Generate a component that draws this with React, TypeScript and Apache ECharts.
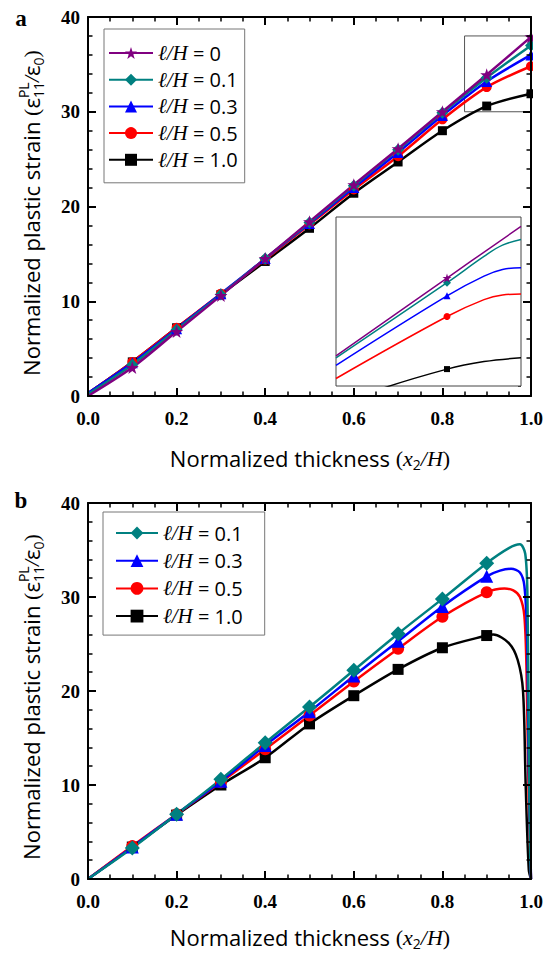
import React, { useEffect, useRef } from 'react';
import * as echarts from 'echarts';

// ---------- data ----------
const xA = [0, 0.1, 0.2, 0.3, 0.4, 0.5, 0.6, 0.7, 0.8, 0.9, 1.0];
const aL0 = [0, 3.0, 6.8, 10.6, 14.5, 18.4, 22.3, 26.1, 30.0, 33.9, 37.9];
const aL01 = [0.2, 3.3, 7.0, 10.7, 14.5, 18.3, 22.2, 26.0, 29.9, 33.6, 37.0];
const aL03 = [0.3, 3.5, 7.1, 10.8, 14.5, 18.2, 22.0, 25.7, 29.6, 33.2, 36.0];
const aL05 = [0.3, 3.6, 7.2, 10.8, 14.4, 18.1, 21.8, 25.3, 29.2, 32.6, 34.8];
const aL10 = [0.3, 3.6, 7.2, 10.7, 14.2, 17.7, 21.4, 24.7, 28.0, 30.6, 31.9];
const markersA = [0.1, 0.2, 0.3, 0.4, 0.5, 0.6, 0.7, 0.8, 0.9, 1.0];

// inset (zoom of panel a near x = 1)
const inX0 = [0.75, 0.9, 1.0];
const inY0 = [30.6, 34.75, 37.5];
const inX01 = [0.75, 0.9, 0.95, 0.975, 1.0];
const inY01 = [30.5, 34.5, 35.9, 36.5, 36.8];
const inX03 = [0.75, 0.9, 0.95, 0.975, 1.0];
const inY03 = [30.1, 33.8, 34.85, 35.2, 35.3];
const inX05 = [0.75, 0.9, 0.95, 0.975, 1.0];
const inY05 = [29.4, 32.7, 33.6, 33.85, 33.9];
const inX10 = [0.75, 0.8, 0.9, 0.95, 1.0];
const inY10 = [27.8, 28.7, 29.9, 30.3, 30.5];
const markersInset = [0.9];

// panel b
const bX01 = [0, 0.1, 0.2, 0.3, 0.4, 0.5, 0.6, 0.7, 0.8, 0.9, 0.95, 0.975, 0.987, 0.992, 0.995, 0.998, 1.0];
const bY01 = [0, 3.3, 6.9, 10.6, 14.5, 18.3, 22.2, 26.1, 29.8, 33.6, 35.2, 35.6, 34.6, 30, 15, 3, 0];
const bX03 = [0, 0.1, 0.2, 0.3, 0.4, 0.5, 0.6, 0.7, 0.8, 0.9, 0.93, 0.955, 0.975, 0.985, 0.991, 0.995, 1.0];
const bY03 = [0, 3.4, 6.9, 10.4, 14.2, 17.8, 21.6, 25.3, 29.0, 32.2, 32.8, 33.0, 32.6, 31.2, 26, 12, 0];
const bX05 = [0, 0.1, 0.2, 0.3, 0.4, 0.5, 0.6, 0.7, 0.8, 0.9, 0.94, 0.96, 0.975, 0.985, 0.99, 0.995, 1.0];
const bY05 = [0, 3.5, 6.9, 10.3, 13.8, 17.4, 21.0, 24.5, 27.9, 30.5, 30.9, 30.7, 30.0, 28.0, 22, 8, 0];
const bX10 = [0, 0.1, 0.2, 0.3, 0.4, 0.5, 0.6, 0.7, 0.8, 0.9, 0.915, 0.95, 0.97, 0.982, 0.988, 0.995, 1.0];
const bY10 = [0, 3.4, 6.8, 10.0, 12.9, 16.5, 19.5, 22.3, 24.6, 25.9, 26.0, 25.1, 23.3, 20.0, 10, 1, 0];
const markersB = [0.1, 0.2, 0.3, 0.4, 0.5, 0.6, 0.7, 0.8, 0.9];

const namesA = ['ℓ/H = 0', 'ℓ/H = 0.1', 'ℓ/H = 0.3', 'ℓ/H = 0.5', 'ℓ/H = 1.0'];
const namesB = ['ℓ/H = 0.1', 'ℓ/H = 0.3', 'ℓ/H = 0.5', 'ℓ/H = 1.0'];
const xTickLabels = ['0.0', '0.2', '0.4', '0.6', '0.8', '1.0'];
const yTickLabels = ['0', '10', '20', '30', '40'];

const colors = {
  l0: '#800080',
  l01: '#008080',
  l03: '#0000ff',
  l05: '#ff0000',
  l10: '#000000',
};
const STAR = 'path://M50,2 L61.8,37.6 L99,37.6 L69,59.6 L80.4,95 L50,73.2 L19.6,95 L31,59.6 L1,37.6 L38.2,37.6 Z';

const zip = (xs: number[], ys: number[]) => xs.map((x, i) => [x, ys[i]]);

const SERIF = "'Liberation Serif', 'Times New Roman', serif";
const SANS = "'Open Sans', 'Liberation Sans', sans-serif";

type Tok = { t: string; size: number; family: string; style?: string; weight?: string; dy?: number; stack?: boolean };

function buildTitle(tokens: Tok[], cx: number, cy: number, rotate: boolean) {
  const canvas = document.createElement('canvas');
  const ctx = canvas.getContext('2d')!;
  const fontOf = (k: Tok) => `${k.style || 'normal'} ${k.weight || 'normal'} ${k.size}px ${k.family}`;
  let x = 0;
  const items: { k: Tok; x: number }[] = [];
  let i = 0;
  while (i < tokens.length) {
    const k = tokens[i];
    ctx.font = fontOf(k);
    let w = ctx.measureText(k.t).width;
    items.push({ k, x });
    if (k.stack && i + 1 < tokens.length) {
      const n = tokens[i + 1];
      ctx.font = fontOf(n);
      w = Math.max(w, ctx.measureText(n.t).width);
      items.push({ k: n, x });
      i += 2;
    } else i += 1;
    x += w;
  }
  const total = x;
  return {
    type: 'group',
    x: cx,
    y: cy,
    rotation: rotate ? Math.PI / 2 : 0,
    children: items.map(({ k, x }) => ({
      type: 'text',
      x: x - total / 2,
      y: k.dy || 0,
      style: {
        text: k.t,
        font: fontOf(k),
        fill: '#000',
        align: 'left',
        verticalAlign: 'middle',
        textAlign: 'left',
        textVerticalAlign: 'middle',
      },
    })),
  };
}

const TS = 22;
const xTitleTokens: Tok[] = [
  { t: 'Normalized thickness ', size: TS, family: SANS },
  { t: '(', size: TS, family: SERIF },
  { t: 'x', size: TS, family: SERIF, style: 'italic' },
  { t: '2', size: 14, family: SANS, dy: 6 },
  { t: '/', size: TS, family: SERIF, style: 'italic' },
  { t: 'H', size: TS, family: SERIF, style: 'italic' },
  { t: ')', size: TS, family: SERIF },
];
const yTitleTokens: Tok[] = [
  { t: 'Normalized plastic strain ', size: TS, family: SANS },
  { t: '(', size: TS, family: SERIF },
  { t: 'ε', size: TS, family: SANS },
  { t: 'PL', size: 14, family: SANS, dy: -8, stack: true },
  { t: '11', size: 14, family: SANS, dy: 7 },
  { t: '/', size: TS, family: SERIF, style: 'italic' },
  { t: 'ε', size: TS, family: SANS },
  { t: '0', size: 14, family: SANS, dy: 7 },
  { t: ')', size: TS, family: SERIF },
];

function mainX(gridIndex: number, top: boolean) {
  return {
    type: 'value',
    gridIndex,
    position: top ? 'top' : 'bottom',
    min: 0,
    max: 1,
    interval: 0.2,
    z: 5,
    axisLine: { show: true, onZero: false, lineStyle: { color: '#000', width: 2 } },
    axisTick: { show: true, inside: true, length: 8, lineStyle: { color: '#000', width: 2 } },
    minorTick: { show: true, splitNumber: 4, length: 4.5, lineStyle: { color: '#000', width: 1.5 } },
    splitLine: { show: false },
    minorSplitLine: { show: false },
    axisLabel: top
      ? { show: false }
      : {
          show: true,
          margin: 13,
          color: '#000',
          fontFamily: SERIF,
          fontWeight: 'bold',
          fontSize: 19,
          formatter: (v: number) => xTickLabels[Math.round(v / 0.2)] ?? '',
        },
  };
}
function mainY(gridIndex: number, right: boolean) {
  return {
    type: 'value',
    gridIndex,
    position: right ? 'right' : 'left',
    min: 0,
    max: 40,
    interval: 10,
    z: 5,
    axisLine: { show: true, onZero: false, lineStyle: { color: '#000', width: 2 } },
    axisTick: { show: true, inside: true, length: 8, lineStyle: { color: '#000', width: 2 } },
    minorTick: { show: true, splitNumber: 5, length: 4.5, lineStyle: { color: '#000', width: 1.5 } },
    splitLine: { show: false },
    minorSplitLine: { show: false },
    axisLabel: right
      ? { show: false }
      : {
          show: true,
          margin: 8,
          color: '#000',
          fontFamily: SERIF,
          fontWeight: 'bold',
          fontSize: 19,
          formatter: (v: number) => yTickLabels[Math.round(v / 10)] ?? '',
        },
  };
}

const near = (list: number[], v: number) => list.some((m) => Math.abs(m - v) < 1e-6);

function lineSeries(
  name: string,
  data: number[][],
  color: string,
  symbol: string,
  size: number,
  markers: number[],
  xi: number,
  yi: number,
  lw: number,
  smooth: number,
  extra: any = {}
) {
  return {
    type: 'line',
    name,
    data,
    xAxisIndex: xi,
    yAxisIndex: yi,
    smooth,
    symbol,
    symbolSize: (v: number[]) => (near(markers, v[0]) ? size : 0),
    showAllSymbol: true,
    lineStyle: { color, width: lw },
    itemStyle: { color, borderWidth: 0 },
    z: 3,
    ...extra,
  };
}

const legendText = {
  fontFamily: SANS,
  fontSize: 20,
  color: '#000',
  lineHeight: 22,
  rich: {
    i: { fontFamily: SERIF, fontStyle: 'italic', fontSize: 21, lineHeight: 22, color: '#000' },
  },
};
const legendFmt = (n: string) => n.replace('ℓ/H', '{i|ℓ/H}');

export default function App() {
  const ref = useRef<HTMLDivElement>(null);
  useEffect(() => {
    if (!ref.current) return;
    const chart = echarts.init(ref.current, undefined, { renderer: 'svg' });
    const option: any = {
      animation: false,
      backgroundColor: '#fff',
      grid: [
        { left: 88, top: 17, width: 443, height: 379 },
        { left: 336, top: 217, width: 185, height: 169, show: true, borderColor: '#444', borderWidth: 1, backgroundColor: '#fff', z: 1 },
        { left: 88, top: 503, width: 443, height: 376 },
      ],
      xAxis: [
        mainX(0, false),
        mainX(0, true),
        { type: 'value', gridIndex: 1, min: 0.75, max: 1, show: false },
        mainX(2, false),
        mainX(2, true),
      ],
      yAxis: [
        mainY(0, false),
        mainY(0, true),
        {
          type: 'value',
          gridIndex: 1,
          position: 'right',
          min: 29,
          max: 38,
          interval: 1,
          axisLine: { show: false },
          axisTick: { show: true, inside: true, length: 3, lineStyle: { color: '#333', width: 1 } },
          axisLabel: { show: false },
          splitLine: { show: false },
        },
        mainY(2, false),
        mainY(2, true),
      ],
      legend: [
        {
          data: namesA.map((n) => ({ name: n })),
          orient: 'vertical',
          left: 104,
          top: 29,
          padding: [13, 7, 12, 4],
          itemWidth: 44,
          itemHeight: 15,
          itemGap: 4.7,
          borderColor: '#777',
          borderWidth: 1,
          backgroundColor: '#fff',
          textStyle: legendText,
          formatter: legendFmt,
          selectedMode: false,
        },
        {
          data: namesB.map((n) => ({ name: n })),
          orient: 'vertical',
          left: 103,
          top: 512,
          padding: [10, 22, 8, 12],
          itemWidth: 42,
          itemHeight: 16,
          itemGap: 5.7,
          borderColor: '#777',
          borderWidth: 1,
          backgroundColor: '#fff',
          textStyle: legendText,
          formatter: legendFmt,
          selectedMode: false,
        },
      ],
      series: [
        lineSeries(namesA[4], zip(xA, aL10), colors.l10, 'rect', 9, markersA, 0, 0, 2.5, 0.3),
        lineSeries(namesA[3], zip(xA, aL05), colors.l05, 'circle', 10, markersA, 0, 0, 2.5, 0.3),
        lineSeries(namesA[2], zip(xA, aL03), colors.l03, 'triangle', 11, markersA, 0, 0, 2.5, 0.3),
        lineSeries(namesA[1], zip(xA, aL01), colors.l01, 'diamond', 12, markersA, 0, 0, 2.5, 0.3),
        lineSeries(namesA[0], zip(xA, aL0), colors.l0, STAR, 13, markersA, 0, 0, 2.5, 0.3, {
          markArea: {
            silent: true,
            itemStyle: { color: 'rgba(0,0,0,0)', borderColor: '#555', borderWidth: 1 },
            data: [[{ coord: [0.85, 30] }, { coord: [1.0, 38] }]],
          },
        }),
        // inset
        lineSeries('in10', zip(inX10, inY10), colors.l10, 'rect', 6, markersInset, 2, 2, 1.5, 0.4),
        lineSeries('in05', zip(inX05, inY05), colors.l05, 'circle', 7, markersInset, 2, 2, 1.5, 0.4),
        lineSeries('in03', zip(inX03, inY03), colors.l03, 'triangle', 7, markersInset, 2, 2, 1.5, 0.4),
        lineSeries('in01', zip(inX01, inY01), colors.l01, 'diamond', 8, markersInset, 2, 2, 1.5, 0.4),
        lineSeries('in0', zip(inX0, inY0), colors.l0, STAR, 9, markersInset, 2, 2, 1.5, 0.4),
        // panel b
        lineSeries(namesB[3], zip(bX10, bY10), colors.l10, 'rect', 11, markersB, 3, 3, 2.5, 0.3),
        lineSeries(namesB[2], zip(bX05, bY05), colors.l05, 'circle', 12, markersB, 3, 3, 2.5, 0.3),
        lineSeries(namesB[1], zip(bX03, bY03), colors.l03, 'triangle', 13, markersB, 3, 3, 2.5, 0.3),
        lineSeries(namesB[0], zip(bX01, bY01), colors.l01, 'diamond', 15, markersB, 3, 3, 2.5, 0.3),
      ],
      graphic: [
        {
          type: 'rect',
          x: 533,
          y: 8,
          shape: { width: 20, height: 392 },
          style: { fill: '#fff' },
          z: 100,
          silent: true,
        },
        {
          type: 'text',
          x: 21,
          y: 18,
          z: 101,
          style: { text: 'a', font: `bold 23px ${SERIF}`, fill: '#000', align: 'center', verticalAlign: 'middle', textAlign: 'center', textVerticalAlign: 'middle' },
        },
        {
          type: 'text',
          x: 21,
          y: 500,
          z: 101,
          style: { text: 'b', font: `bold 23px ${SERIF}`, fill: '#000', align: 'center', verticalAlign: 'middle', textAlign: 'center', textVerticalAlign: 'middle' },
        },
        buildTitle(xTitleTokens, 310, 458, false),
        buildTitle(xTitleTokens, 310, 937, false),
        buildTitle(yTitleTokens, 31, 213, true),
        buildTitle(yTitleTokens, 31, 697, true),
      ],
    };
    chart.setOption(option);
    return () => chart.dispose();
  }, []);
  return <div ref={ref} style={{ position: 'fixed', left: 0, top: 0, width: 553, height: 955, background: '#fff' }} />;
}
